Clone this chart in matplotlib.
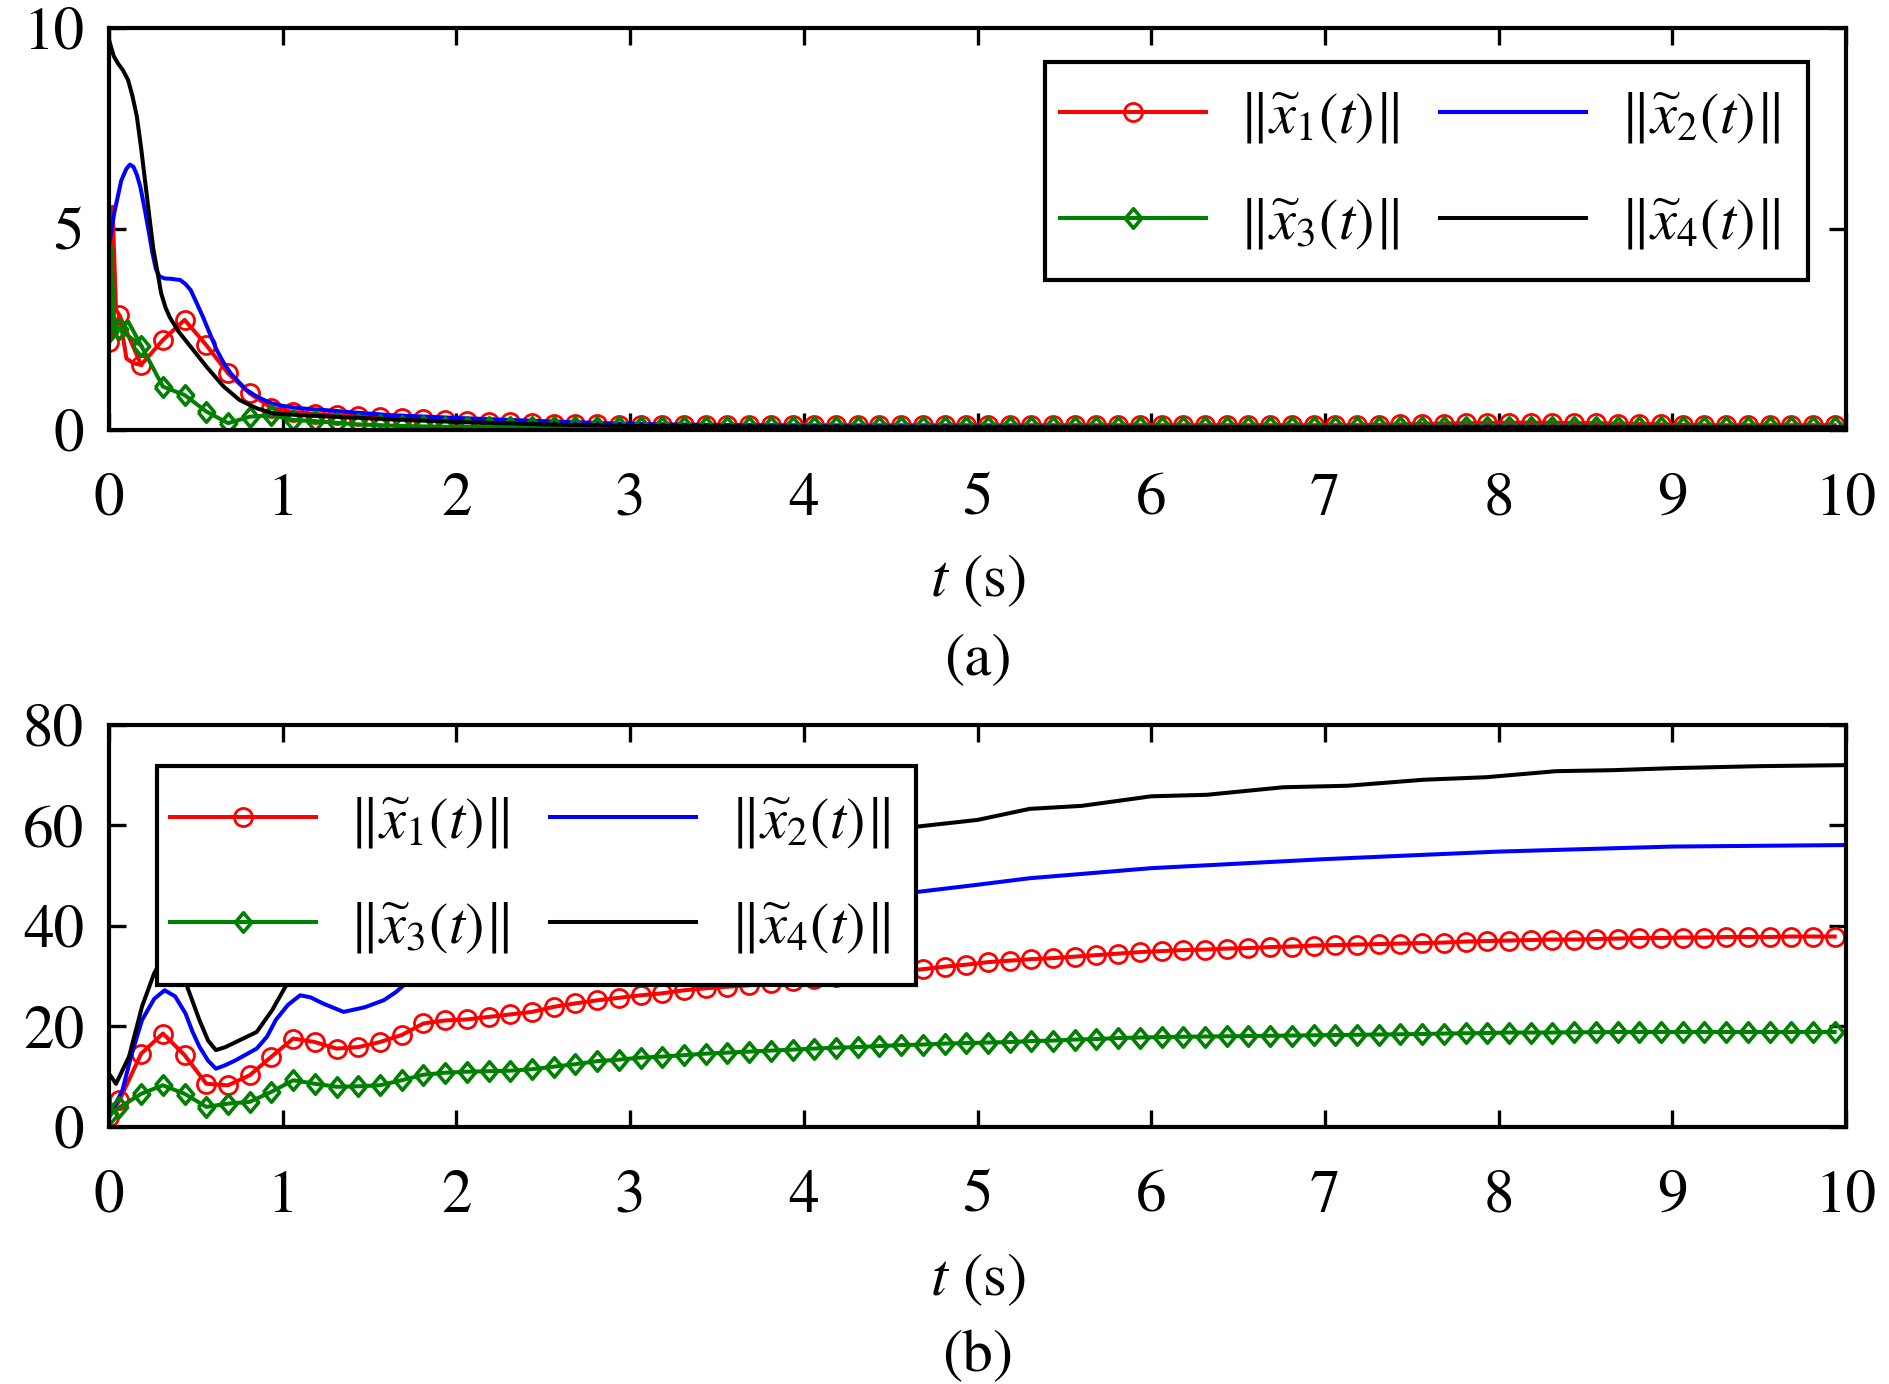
import numpy as np
import matplotlib
matplotlib.use("Agg")
import matplotlib.pyplot as plt
import matplotlib as mpl
from matplotlib.patches import Rectangle

# style
mpl.rcParams.update({
    "font.family": "serif",
    "font.serif": ["STIXGeneral", "Liberation Serif", "DejaVu Serif"],
    "mathtext.fontset": "stix",
    "font.size": 44,
    "xtick.labelsize": 44,
    "ytick.labelsize": 44,
    "axes.linewidth": 3.0,
})

# marker sample times (solver output points)
t_mk = np.round(np.r_[0.0, 0.06 + 0.125 * np.arange(80)], 3)

# ---------- panel (a) ----------
x1_a = [2.2, 2.85, 1.62, 2.24, 2.74, 2.11, 1.41, 0.91, 0.55, 0.45,
        0.40, 0.37, 0.35, 0.33, 0.30, 0.27, 0.25, 0.22, 0.20, 0.19,
        0.18, 0.16, 0.15, 0.14, 0.13, 0.12, 0.12, 0.12, 0.12, 0.12,
        0.12, 0.12, 0.12, 0.12, 0.12, 0.12, 0.12, 0.12, 0.12, 0.12,
        0.12, 0.12, 0.12, 0.12, 0.12, 0.12, 0.12, 0.12, 0.12, 0.12,
        0.12, 0.12, 0.12, 0.12, 0.12, 0.12, 0.12, 0.12, 0.12, 0.13,
        0.14, 0.15, 0.16, 0.17, 0.17, 0.18, 0.18, 0.18, 0.17, 0.17,
        0.16, 0.15, 0.14, 0.13, 0.12, 0.12, 0.12, 0.12, 0.12, 0.12, 0.12]
x1_a_spike_t = [0.0, 0.02, 0.04, 0.06, 0.1, 0.14, 0.185]
x1_a_spike = [2.2, 5.55, 3.0, 2.85, 1.78, 1.66, 1.62]

x3_a = [2.45, 2.5, 2.1, 1.08, 0.87, 0.46, 0.17, 0.33, 0.37, 0.25,
        0.22, 0.18, 0.14, 0.12, 0.10, 0.09, 0.08, 0.08, 0.08, 0.07,
        0.07, 0.07, 0.07, 0.07, 0.07, 0.07, 0.07, 0.08, 0.08, 0.08,
        0.08, 0.08, 0.08, 0.08, 0.08, 0.08, 0.08, 0.08, 0.08, 0.08,
        0.08, 0.08, 0.08, 0.08, 0.08, 0.08, 0.08, 0.08, 0.08, 0.08,
        0.08, 0.08, 0.08, 0.08, 0.08, 0.08, 0.08, 0.08, 0.08, 0.08,
        0.08, 0.08, 0.08, 0.08, 0.08, 0.08, 0.08, 0.08, 0.08, 0.08,
        0.08, 0.08, 0.08, 0.08, 0.08, 0.08, 0.08, 0.08, 0.08, 0.08, 0.08]
x3_a_spike_t = [0.0, 0.012, 0.03, 0.06, 0.11, 0.185]
x3_a_spike = [2.45, 4.56, 2.6, 2.5, 2.7, 2.1]

t_x2_a = [0, 0.03, 0.07, 0.1, 0.12, 0.14, 0.16, 0.18, 0.205, 0.23, 0.25,
          0.27, 0.29, 0.32, 0.36, 0.41, 0.44, 0.47, 0.50, 0.54, 0.58,
          0.62, 0.66, 0.70, 0.75, 0.79, 0.84, 0.89, 0.94, 1.0, 1.1, 1.23,
          1.4, 1.62, 2.0, 2.5, 3.0, 4.0, 5.0, 6.0, 7.0, 8.0, 9.0, 10.0]
x2_a = [4.6, 5.4, 6.2, 6.5, 6.6, 6.55, 6.35, 6.05, 5.5, 4.9, 4.4,
        4.0, 3.82, 3.77, 3.76, 3.73, 3.63, 3.48, 3.2, 2.82, 2.4,
        1.99, 1.67, 1.41, 1.18, 1.0, 0.86, 0.75, 0.66, 0.6, 0.54, 0.5,
        0.44, 0.37, 0.3, 0.22, 0.15, 0.1, 0.09, 0.08, 0.08, 0.09, 0.08, 0.08]

t_x4_a = [0, 0.027, 0.054, 0.08, 0.11, 0.135, 0.16, 0.185, 0.21, 0.235,
          0.255, 0.28, 0.30, 0.325, 0.35, 0.40, 0.47, 0.56, 0.66, 0.75,
          0.85, 0.95, 1.1, 1.3, 1.6, 2.0, 2.5, 3.0, 4.0, 5.0, 6.0, 7.0,
          8.0, 9.0, 10.0]
x4_a = [9.7, 9.3, 9.1, 8.95, 8.7, 8.3, 7.8, 7.0, 6.1, 5.2,
        4.5, 3.9, 3.4, 3.05, 2.8, 2.45, 2.07, 1.58, 1.08, 0.75,
        0.54, 0.41, 0.37, 0.33, 0.27, 0.2, 0.14, 0.1, 0.08, 0.07, 0.07,
        0.07, 0.07, 0.07, 0.07]

# ---------- panel (b) ----------
x1_b = [2.0, 5.3, 14.6, 18.6, 14.3, 8.6, 8.3, 10.3, 14.0, 17.6,
        16.9, 15.6, 15.9, 16.9, 18.3, 20.6, 21.2, 21.4, 21.9, 22.4,
        22.9, 23.9, 24.6, 25.2, 25.7, 26.2, 26.6, 27.2, 27.6, 27.9,
        28.2, 28.6, 29.0, 29.4, 29.8, 30.2, 30.6, 31.0, 31.4, 31.9,
        32.3, 32.8, 33.1, 33.4, 33.6, 33.9, 34.2, 34.5, 34.8, 35.0,
        35.2, 35.3, 35.5, 35.6, 35.8, 35.9, 36.1, 36.2, 36.3, 36.4,
        36.5, 36.6, 36.7, 36.9, 37.0, 37.1, 37.2, 37.3, 37.3, 37.4,
        37.5, 37.6, 37.6, 37.7, 37.7, 37.8, 37.8, 37.8, 37.9, 37.9, 37.9]

x3_b = [2.3, 3.9, 6.6, 8.3, 6.6, 4.0, 4.65, 5.0, 7.0, 9.3,
        8.6, 8.0, 8.1, 8.3, 9.3, 10.4, 10.8, 11.0, 11.1, 11.2,
        11.5, 12.0, 12.5, 13.1, 13.4, 13.8, 14.0, 14.3, 14.6, 14.8,
        15.0, 15.2, 15.4, 15.6, 15.8, 15.9, 16.1, 16.3, 16.4, 16.6,
        16.7, 16.8, 16.9, 17.1, 17.2, 17.4, 17.5, 17.7, 17.8, 17.9,
        17.95, 18.0, 18.05, 18.1, 18.15, 18.2, 18.25, 18.3, 18.35, 18.4,
        18.45, 18.5, 18.6, 18.65, 18.7, 18.8, 18.8, 18.8, 18.85, 18.85,
        18.9, 18.9, 18.9, 18.9, 18.9, 18.9, 18.9, 18.9, 18.9, 18.9, 18.9]

t_x2_b = [0, 0.077, 0.13, 0.19, 0.26, 0.32, 0.38, 0.44, 0.48, 0.52, 0.57,
          0.615, 0.67, 0.73, 0.85, 0.91, 0.96, 1.03, 1.1, 1.16, 1.23,
          1.35, 1.47, 1.58, 1.65, 1.71, 2.0, 2.5, 3.0, 3.5, 4.0, 4.66,
          5.0, 5.3, 6.0, 7.0, 8.0, 9.0, 10.0]
x2_b = [2.0, 7.3, 14.5, 21.3, 25.5, 27.2, 26.0, 22.6, 19.0, 16.0, 13.2,
        11.6, 12.3, 13.3, 15.6, 18.0, 21.3, 24.3, 26.2, 25.8, 24.6,
        22.9, 23.8, 25.2, 26.8, 28.6, 34.0, 37.5, 40.5, 42.8, 44.6, 46.8,
        48.2, 49.5, 51.5, 53.3, 54.8, 55.8, 56.1]

t_x4_b = [0, 0.04, 0.115, 0.19, 0.26, 0.33, 0.40, 0.45, 0.52, 0.57, 0.615,
          0.67, 0.73, 0.85, 0.94, 1.02, 1.15, 1.3, 1.5, 1.8, 2.5, 3.0,
          3.5, 4.0, 4.66, 5.0, 5.3, 5.6, 6.0, 6.32, 6.76, 7.13, 7.57,
          7.93, 8.33, 8.66, 9.0, 9.5, 10.0]
x4_b = [10.6, 8.6, 14.0, 24.0, 30.6, 35.0, 33.0, 27.9, 21.3, 17.2, 15.3,
        15.9, 16.9, 18.9, 23.3, 28.2, 33.0, 31.0, 33.0, 38.0, 46.0, 50.0,
        53.0, 56.0, 59.8, 61.1, 63.3, 63.9, 65.8, 66.1, 67.6, 67.9, 69.1,
        69.6, 70.8, 71.0, 71.4, 71.8, 72.0]

labels = [r'$\left\|\widetilde{x}_1(t)\right\|$',
          r'$\left\|\widetilde{x}_2(t)\right\|$',
          r'$\left\|\widetilde{x}_3(t)\right\|$',
          r'$\left\|\widetilde{x}_4(t)\right\|$']

# thin diamond marker
diamond = [(-0.42, 0), (0, 0.5), (0.42, 0), (0, -0.5), (-0.42, 0)]
lw = 2.9


def draw(ax, x1, x2t, x2, x3, x4t, x4, spikes=None):
    ax.plot(t_mk, x1, color='red', lw=lw, marker='o', ms=13, mfc='none',
            mew=2.0, label=labels[0])
    if spikes:
        ax.plot(spikes[0], spikes[1], color='red', lw=lw)
    ax.plot(x2t, x2, color='blue', lw=lw, label=labels[1])
    ax.plot(t_mk, x3, color='green', lw=lw, marker=diamond, ms=14,
            mfc='none', mew=2.6, label=labels[2])
    if spikes:
        ax.plot(spikes[2], spikes[3], color='green', lw=lw)
    ax.plot(x4t, x4, color='black', lw=lw, label=labels[3])
    ax.set_xlim(0, 10)
    ax.set_xticks(range(0, 11))
    ax.tick_params(direction='in', top=True, right=True, length=12,
                   width=2.4)
    ax.tick_params(axis='x', pad=31)
    ax.tick_params(axis='y', pad=18)


def boxed_legend(ax, x0, y0, x1, y1):
    # white framed box in axes coords, legend entries centred inside it
    ax.add_patch(Rectangle((x0, y0), x1 - x0, y1 - y0, transform=ax.transAxes,
                           facecolor='white', edgecolor='black', lw=3.0,
                           zorder=4, clip_on=False))
    h, l = ax.get_legend_handles_labels()
    order = [0, 2, 1, 3]
    lg = ax.legend([h[i] for i in order], [l[i] for i in order], loc='center',
                   bbox_to_anchor=((x0 + x1) / 2 - 0.004, (y0 + y1) / 2),
                   ncol=2, fontsize=42, frameon=False, handlelength=2.5,
                   handletextpad=0.58, columnspacing=0.7, labelspacing=0.87,
                   borderpad=0, borderaxespad=0)
    lg.set_zorder(5)


fig = plt.figure(figsize=(18.9, 13.84), dpi=100)
ax1 = fig.add_axes([0.0577, 0.6893, 0.919, 0.2905])
ax2 = fig.add_axes([0.0577, 0.1857, 0.919, 0.2905])

draw(ax1, x1_a, t_x2_a, x2_a, x3_a, t_x4_a, x4_a,
     spikes=(x1_a_spike_t, x1_a_spike, x3_a_spike_t, x3_a_spike))
ax1.set_ylim(0, 10)
ax1.set_yticks([0, 5, 10])
boxed_legend(ax1, 0.5389, 0.3731, 0.9781, 0.9154)

draw(ax2, x1_b, t_x2_b, x2_b, x3_b, t_x4_b, x4_b)
ax2.set_ylim(0, 80)
ax2.set_yticks([0, 20, 40, 60, 80])
boxed_legend(ax2, 0.0276, 0.3532, 0.4646, 0.898)

# axis labels and panel tags
cx = 0.0577 + 0.919 / 2
fig.text(cx, 1 - 581 / 1384, r'$t$ (s)', ha='center', va='center')
fig.text(cx, 1 - 660 / 1384, '(a)', ha='center', va='center')
fig.text(cx, 1 - 1280 / 1384, r'$t$ (s)', ha='center', va='center')
fig.text(cx, 1 - 1357 / 1384, '(b)', ha='center', va='center')

fig.savefig('out.png', dpi=100)
